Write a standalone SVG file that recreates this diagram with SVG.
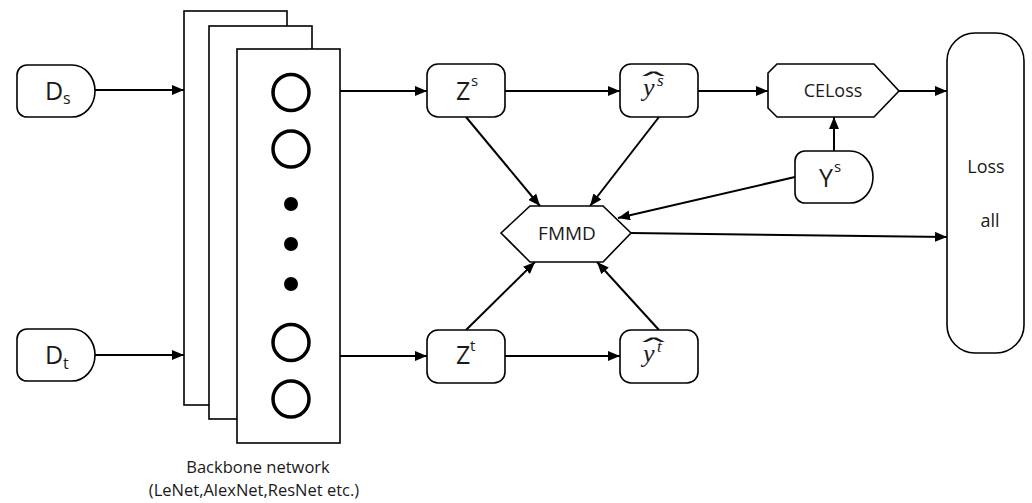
<svg xmlns="http://www.w3.org/2000/svg" width="1032" height="503" viewBox="0 0 1032 503">
<defs>
<style>
.n{fill:#fff;stroke:#000;stroke-width:1.6}
.c{fill:none;stroke:#000;stroke-width:2}
.t{font-family:"Open Sans","Liberation Sans",sans-serif;fill:#1a1a1a}
.m{font-family:"Liberation Serif","DejaVu Serif",serif;font-style:italic;fill:#1a1a1a}
.h{font-family:"DejaVu Serif",serif;fill:#1a1a1a}
.ring{fill:none;stroke:#000;stroke-width:3.5}
</style>
<marker id="a" viewBox="0 0 12 10" refX="12" refY="5" markerWidth="12" markerHeight="10" markerUnits="userSpaceOnUse" orient="auto">
<path d="M0,0 L12,5 L0,10 Z" fill="#000"/>
</marker>
</defs>
<rect width="1032" height="503" fill="#fff"/>

<g id="backbone">
<rect class="n" x="184" y="11" width="103" height="394"/>
<rect class="n" x="209" y="26" width="103" height="393"/>
<rect class="n" x="237" y="49" width="103" height="394"/>
<circle class="ring" cx="291" cy="92.5" r="18"/>
<circle class="ring" cx="291" cy="149" r="18"/>
<circle cx="291" cy="204" r="7"/>
<circle cx="291" cy="244" r="7"/>
<circle cx="291" cy="284" r="7"/>
<circle class="ring" cx="291" cy="342.5" r="18"/>
<circle class="ring" cx="291" cy="399" r="18"/>
<text class="t" x="258" y="473" font-size="16.5" text-anchor="middle">Backbone network</text>
<text class="t" x="254" y="496" font-size="16.5" text-anchor="middle">(LeNet,AlexNet,ResNet etc.)</text>
</g>

<g id="connectors">
<line class="c" x1="95" y1="90" x2="184" y2="90" marker-end="url(#a)"/>
<line class="c" x1="95" y1="355" x2="184" y2="355" marker-end="url(#a)"/>
<line class="c" x1="340" y1="91" x2="427" y2="91" marker-end="url(#a)"/>
<line class="c" x1="340" y1="356" x2="427" y2="356" marker-end="url(#a)"/>
<line class="c" x1="505" y1="91" x2="620" y2="91" marker-end="url(#a)"/>
<line class="c" x1="505" y1="356" x2="620" y2="356" marker-end="url(#a)"/>
<line class="c" x1="698" y1="91" x2="768" y2="91" marker-end="url(#a)"/>
<line class="c" x1="899" y1="91" x2="947" y2="91" marker-end="url(#a)"/>
<line class="c" x1="834" y1="151" x2="834" y2="117" marker-end="url(#a)"/>
<line class="c" x1="466" y1="117" x2="540" y2="206" marker-end="url(#a)"/>
<line class="c" x1="659" y1="117" x2="590" y2="206" marker-end="url(#a)"/>
<line class="c" x1="466" y1="330" x2="535" y2="262" marker-end="url(#a)"/>
<line class="c" x1="659" y1="330" x2="597" y2="262" marker-end="url(#a)"/>
<line class="c" x1="795" y1="177" x2="618" y2="218" marker-end="url(#a)"/>
<line class="c" x1="631" y1="233" x2="947" y2="237" marker-end="url(#a)"/>
</g>

<g id="Ds">
<path class="n" d="M27,65 H72 A23,26 0 0 1 72,117 H27 A10,10 0 0 1 17,107 V75 A10,10 0 0 1 27,65 Z"/>
<text class="t" x="45" y="100" font-size="25">D</text>
<text class="t" x="63" y="104" font-size="16">s</text>
</g>

<g id="Dt">
<path class="n" d="M27,329 H72 A23,26 0 0 1 72,381 H27 A10,10 0 0 1 17,371 V339 A10,10 0 0 1 27,329 Z"/>
<text class="t" x="45" y="364" font-size="25">D</text>
<text class="t" x="63" y="369" font-size="16">t</text>
</g>

<g id="Zs">
<rect class="n" x="427" y="64" width="78" height="53" rx="11"/>
<text class="t" x="456" y="100" font-size="25">Z</text>
<text class="t" x="471" y="86" font-size="15">s</text>
</g>

<g id="Zt">
<rect class="n" x="427" y="330" width="78" height="53" rx="11"/>
<text class="t" x="456" y="364" font-size="25">Z</text>
<text class="t" x="470" y="351" font-size="15">t</text>
</g>

<g id="ys">
<rect class="n" x="620" y="64" width="78" height="53" rx="11"/>
<text class="h" font-size="24" text-anchor="middle" transform="translate(653.5,91) scale(3,1)">ˆ</text>
<text class="m" x="643" y="96" font-size="26">y</text>
<text class="m" x="657" y="86" font-size="17">s</text>
</g>

<g id="yt">
<rect class="n" x="620" y="330" width="78" height="53" rx="11"/>
<text class="h" font-size="24" text-anchor="middle" transform="translate(653.5,357) scale(3,1)">ˆ</text>
<text class="m" x="643" y="362" font-size="26">y</text>
<text class="m" x="657" y="352" font-size="17">t</text>
</g>

<g id="FMMD">
<polygon class="n" points="501,233 530,206 603,206 631,233 603,262 530,262"/>
<text class="t" x="567" y="240" font-size="19" text-anchor="middle">FMMD</text>
</g>

<g id="CELoss">
<polygon class="n" points="777,64 874,64 899,91 874,117 777,117 768,108 768,73"/>
<text class="t" x="833" y="97" font-size="18" text-anchor="middle">CELoss</text>
</g>

<g id="Ys">
<path class="n" d="M805,151 H850 A23,26 0 0 1 850,203 H805 A10,10 0 0 1 795,193 V161 A10,10 0 0 1 805,151 Z"/>
<text class="t" x="819" y="187" font-size="25">Y</text>
<text class="t" x="834" y="172" font-size="15">s</text>
</g>

<g id="Lossall">
<rect class="n" x="947" y="33" width="77" height="320" rx="28"/>
<text class="t" x="986" y="173" font-size="18" text-anchor="middle">Loss</text>
<text class="t" x="990" y="227" font-size="18" text-anchor="middle">all</text>
</g>
</svg>
